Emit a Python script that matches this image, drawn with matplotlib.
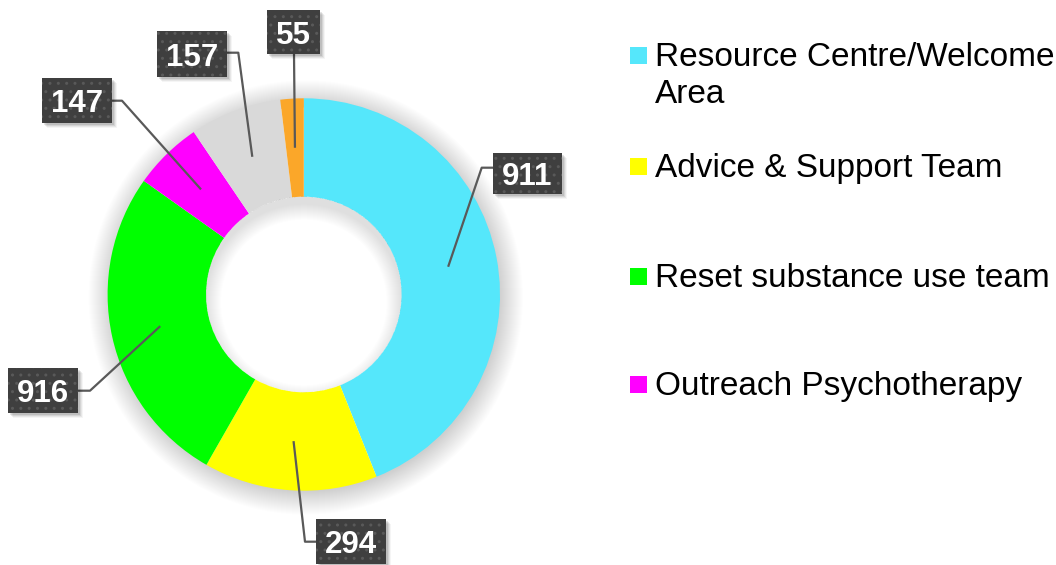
import matplotlib
matplotlib.use("Agg")
import matplotlib.pyplot as plt
from matplotlib.patches import Wedge, Rectangle, Circle
import numpy as np

# ---------------- data ----------------
slice_shares = [158.2, 51.5, 95.6, 20.5, 27.2, 6.9]      # visual share of each ring segment
label_values = [911, 294, 916, 147, 157, 55]              # numbers shown in the callouts
slice_colors = ["#55E7FB", "#FFFF00", "#00FF00", "#FF00FF", "#D9D9D9", "#FBA729"]
legend_labels = ["Resource Centre/Welcome\nArea", "Advice & Support Team",
                 "Reset substance use team", "Outreach Psychotherapy"]

W, H = 1056, 565
plt.rcParams['font.family'] = ['Liberation Sans', 'DejaVu Sans']

fig = plt.figure(figsize=(W / 100, H / 100), dpi=100)
ax = fig.add_axes([0, 0, 1, 1])

def Y(y):
    return H - y

cx, cy = 303.8, Y(294.5)
R_out, R_in = 196.2, 97.8

# soft outer shadow (darkest at the ring edge, fading outward)
for k in range(24):
    ax.add_patch(Wedge((cx + 2, cy - 3), R_out - 2 + k, 0, 360, width=k + 4,
                       facecolor="black", alpha=0.006, lw=0, zorder=1))

wedges, _ = ax.pie(slice_shares, colors=slice_colors, startangle=90, counterclock=False,
                   radius=R_out, center=(cx, cy),
                   wedgeprops=dict(width=R_out - R_in, edgecolor="none", linewidth=0))
for w in wedges:
    w.set_zorder(2)

# inner shadow in the hole (stronger at the top)
hole = Circle((cx, cy), R_in, transform=ax.transData)
for k in range(16):
    p = Wedge((cx, cy - 8), 300, 0, 360, width=300 - (R_in - k), facecolor="black",
              alpha=0.008, lw=0, zorder=3)
    ax.add_patch(p)
    p.set_clip_path(hole)

# callout layout: box (left, top, right, bottom) in px and elbow points
boxes = [
    (493, 153, 562, 194),
    (316, 519, 386, 564),
    (8, 368, 78, 413),
    (42, 78, 112, 123),
    (157, 31, 227, 77),
    (267, 10, 320, 54),
]
elbows = [
    [(481.7, 167.7), (493, 167.7)],
    [(305, 541.7), (316, 541.7)],
    [(90, 390.7), (78, 390.7)],
    [(122, 100.7), (112, 100.7)],
    [(238.3, 52.7), (227, 52.7)],
    [(294, 54)],
]

R_mid = (R_out + R_in) / 2
for w, val, box, elb in zip(wedges, label_values, boxes, elbows):
    mid = np.deg2rad((w.theta1 + w.theta2) / 2)
    ax_, ay_ = cx + R_mid * np.cos(mid), cy + R_mid * np.sin(mid)
    xs = [ax_] + [p[0] for p in elb]
    ys = [ay_] + [Y(p[1]) for p in elb]
    ax.plot(xs, ys, color="#595959", lw=1.6, zorder=5, solid_capstyle="butt")
    l, t, r, b = box
    # drop shadow
    for j, a in enumerate([0.10, 0.08, 0.06, 0.04]):
        ax.add_patch(Rectangle((l + 2 + j, Y(b) - 2 - j), r - l, b - t, facecolor="black",
                               alpha=a, lw=0, zorder=6))
    ax.add_patch(Rectangle((l, Y(b)), r - l, b - t, facecolor="#3F3F3F", edgecolor="#595959",
                           hatch="..", lw=0, zorder=7))
    ax.text((l + r) / 2, Y((t + b) / 2), str(val), color="white", fontsize=22.5,
            fontweight="bold", ha="center", va="center_baseline", zorder=8)

# legend
leg_base = [66, 176.7, 286.7, 395]
for lab, col, yb in zip(legend_labels, slice_colors, leg_base):
    ax.add_patch(Rectangle((630, Y(yb - 2)), 17, 17, facecolor=col, lw=0, zorder=5))
    for i, line in enumerate(lab.split("\n")):
        ax.text(655, Y(yb + i * 37), line, fontsize=24, color="black",
                ha="left", va="baseline", zorder=5)

ax.set_xlim(0, W)
ax.set_ylim(0, H)
ax.set_aspect("auto")
ax.axis("off")
fig.savefig("out.png", dpi=100, facecolor="white")
